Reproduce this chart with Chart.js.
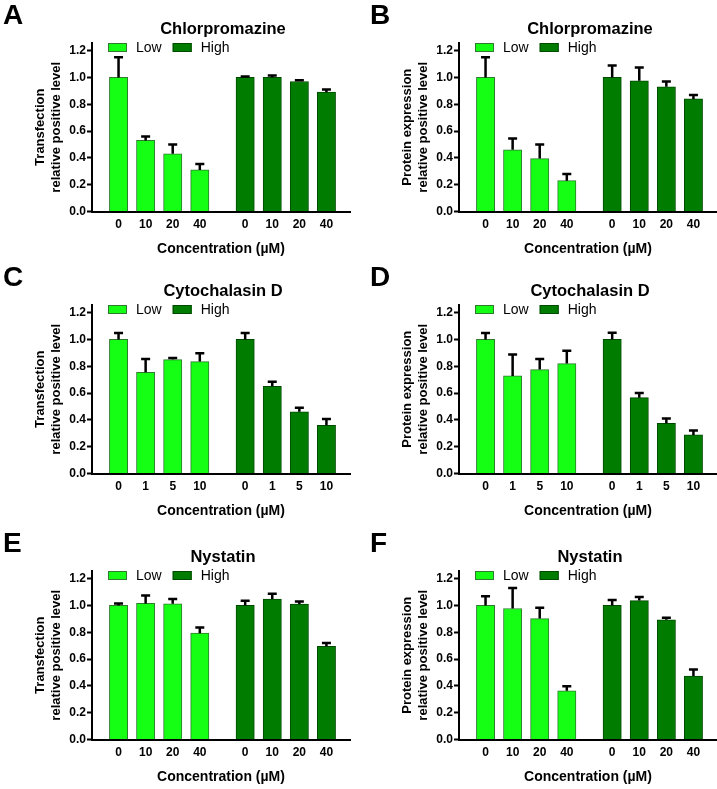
<!DOCTYPE html>
<html>
<head>
<meta charset="utf-8">
<script src="https://cdn.jsdelivr.net/npm/chart.js@4.4.1/dist/chart.umd.min.js"></script>
<style>
body { margin: 0; width: 717px; height: 789px; overflow: hidden; background: #fff; position: relative;
       font-family: "Liberation Sans", Arial, sans-serif; color: #000; }
.panel { position: absolute; width: 360px; height: 262px; }
.panel canvas { position: absolute; left: 0; top: 0; }
.letter { position: absolute; left: 3px; top: 1px; font-size: 28px; font-weight: bold; line-height: 28px; }
.title { position: absolute; left: 123px; width: 200px; top: 18px; text-align: center;
         font-size: 16.5px; font-weight: bold; line-height: 20px; }
</style>
</head>
<body>
<script>
/* Dose labels */
const chlorDoses = ['0', '10', '20', '40'];
const cytoDoses = ['0', '1', '5', '10'];
const nysDoses = ['0', '10', '20', '40'];

/* A - Chlorpromazine, transfection */
const aLow = [1.0, 0.53, 0.43, 0.31];
const aLowErr = [0.15, 0.03, 0.07, 0.045];
const aHigh = [1.0, 1.0, 0.97, 0.89];
const aHighErr = [0.008, 0.015, 0.01, 0.02];

/* B - Chlorpromazine, protein expression */
const bLow = [1.0, 0.46, 0.395, 0.23];
const bLowErr = [0.15, 0.085, 0.105, 0.05];
const bHigh = [1.0, 0.975, 0.93, 0.84];
const bHighErr = [0.09, 0.1, 0.04, 0.03];

/* C - Cytochalasin D, transfection */
const cLow = [1.0, 0.755, 0.85, 0.835];
const cLowErr = [0.048, 0.1, 0.012, 0.062];
const cHigh = [1.0, 0.65, 0.46, 0.36];
const cHighErr = [0.048, 0.035, 0.03, 0.047];

/* D - Cytochalasin D, protein expression */
const dLow = [1.0, 0.728, 0.775, 0.82];
const dLowErr = [0.048, 0.16, 0.08, 0.095];
const dHigh = [1.0, 0.566, 0.375, 0.288];
const dHighErr = [0.05, 0.035, 0.035, 0.032];

/* E - Nystatin, transfection */
const eLow = [1.0, 1.015, 1.012, 0.793];
const eLowErr = [0.015, 0.06, 0.037, 0.042];
const eHigh = [1.0, 1.048, 1.01, 0.695];
const eHighErr = [0.035, 0.04, 0.02, 0.025];

/* F - Nystatin, protein expression */
const fLow = [1.0, 0.977, 0.902, 0.363];
const fLowErr = [0.068, 0.153, 0.08, 0.035];
const fHigh = [1.0, 1.036, 0.893, 0.473];
const fHighErr = [0.04, 0.027, 0.015, 0.05];

const yTicks = [0, 0.2, 0.4, 0.6, 0.8, 1.0, 1.2];

const FONT = '"Liberation Sans", Arial, sans-serif';
const LOW_COLOR = '#14ff14', LOW_BORDER = '#2f7a2f';
const HIGH_COLOR = '#007d00', HIGH_BORDER = '#004a00';
const GROUP_GAP = 4.675; // second group starts here on the x scale

const transTitle = ['Transfection', 'relative positive level'];
const protTitle = ['Protein expression', 'relative positive level'];

const panels = [
    {letter: 'A', left: 0,   top: 0,     title: 'Chlorpromazine', yTitle: transTitle, doses: chlorDoses, low: aLow, lowErr: aLowErr, high: aHigh, highErr: aHighErr},
    {letter: 'B', left: 367, top: 0,     title: 'Chlorpromazine', yTitle: protTitle,  doses: chlorDoses, low: bLow, lowErr: bLowErr, high: bHigh, highErr: bHighErr},
    {letter: 'C', left: 0,   top: 261.5, title: 'Cytochalasin D', yTitle: transTitle, doses: cytoDoses,  low: cLow, lowErr: cLowErr, high: cHigh, highErr: cHighErr},
    {letter: 'D', left: 367, top: 261.5, title: 'Cytochalasin D', yTitle: protTitle,  doses: cytoDoses,  low: dLow, lowErr: dLowErr, high: dHigh, highErr: dHighErr},
    {letter: 'E', left: 0,   top: 527.5, title: 'Nystatin',       yTitle: transTitle, doses: nysDoses,   low: eLow, lowErr: eLowErr, high: eHigh, highErr: eHighErr},
    {letter: 'F', left: 367, top: 527.5, title: 'Nystatin',       yTitle: protTitle,  doses: nysDoses,   low: fLow, lowErr: fLowErr, high: fHigh, highErr: fHighErr}
];

/* upward-only error bars with a cap */
const errorBars = {
    id: 'errorBars',
    afterDatasetsDraw(chart) {
        const ctx = chart.ctx;
        const yScale = chart.scales.y;
        ctx.save();
        ctx.strokeStyle = '#000';
        ctx.lineWidth = 2.5;
        chart.data.datasets.forEach((ds, i) => {
            chart.getDatasetMeta(i).data.forEach((bar, j) => {
                const top = yScale.getPixelForValue(ds.data[j].y + ds.errors[j]);
                ctx.beginPath();
                ctx.moveTo(bar.x, bar.y);
                ctx.lineTo(bar.x, top);
                ctx.moveTo(bar.x - 4.5, top);
                ctx.lineTo(bar.x + 4.5, top);
                ctx.stroke();
            });
        });
        ctx.restore();
    }
};

/* legend sitting inside the plot, next to the 1.2 tick */
const innerLegend = {
    id: 'innerLegend',
    afterDraw(chart) {
        const {ctx, chartArea} = chart;
        let x = chartArea.left + 16;
        const y = chartArea.top;
        ctx.save();
        ctx.font = '14px ' + FONT;
        ctx.textBaseline = 'middle';
        ctx.textAlign = 'left';
        chart.data.datasets.forEach(ds => {
            ctx.fillStyle = ds.backgroundColor;
            ctx.fillRect(x, y, 19, 9);
            ctx.strokeStyle = ds.borderColor;
            ctx.lineWidth = 1;
            ctx.strokeRect(x + 0.5, y + 0.5, 18, 8);
            ctx.fillStyle = '#000';
            ctx.fillText(ds.label, x + 28, y + 5);
            x += 28 + ctx.measureText(ds.label).width + 11;
        });
        ctx.restore();
    }
};

const makePoints = function(values, offset) {
    return values.map((v, i) => ({x: offset + i, y: v}));
}

panels.forEach(p => {
    const box = document.createElement('div');
    box.className = 'panel';
    box.style.left = p.left + 'px';
    box.style.top = p.top + 'px';
    box.innerHTML = '<canvas width="360" height="262"></canvas><div class="letter"></div><div class="title"></div>';
    box.querySelector('.letter').textContent = p.letter;
    box.querySelector('.title').textContent = p.title;
    document.body.appendChild(box);

    const tickPos = p.doses.map((_, i) => i).concat(p.doses.map((_, i) => GROUP_GAP + i));
    const tickLabels = p.doses.concat(p.doses);

    new Chart(box.querySelector('canvas'), {
        type: 'bar',
        data: {
            datasets: [{
                label: 'Low',
                data: makePoints(p.low, 0),
                errors: p.lowErr,
                backgroundColor: LOW_COLOR,
                borderColor: LOW_BORDER,
                borderWidth: 1,
                grouped: false,
                barThickness: 18.3
            }, {
                label: 'High',
                data: makePoints(p.high, GROUP_GAP),
                errors: p.highErr,
                backgroundColor: HIGH_COLOR,
                borderColor: HIGH_BORDER,
                borderWidth: 1,
                grouped: false,
                barThickness: 18.3
            }]
        },
        options: {
            responsive: false,
            animation: false,
            layout: {padding: {left: 0, top: 43, right: 10, bottom: 4.5}},
            plugins: {legend: {display: false}, tooltip: {enabled: false}},
            scales: {
                x: {
                    type: 'linear',
                    offset: false,
                    min: -0.98,
                    max: 8.545,
                    afterBuildTicks: s => { s.ticks = tickPos.map(v => ({value: v})); },
                    afterFit: s => { s.height = 46; },
                    grid: {display: false, drawTicks: false},
                    border: {display: true, color: '#000', width: 2},
                    ticks: {
                        autoSkip: false,
                        maxRotation: 0,
                        padding: 6,
                        color: '#000',
                        font: {family: FONT, size: 12, weight: 'bold'},
                        callback: (v, i) => tickLabels[i]
                    },
                    title: {
                        display: true,
                        text: 'Concentration (µM)',
                        color: '#000',
                        padding: {top: 0, bottom: 0},
                        font: {family: FONT, size: 14, weight: 'bold'}
                    }
                },
                y: {
                    min: 0,
                    max: 1.257,
                    afterFit: s => { s.width = 92; },
                    afterBuildTicks: s => { s.ticks = yTicks.map(v => ({value: v})); },
                    grid: {drawOnChartArea: false, drawTicks: true, tickLength: 5, tickWidth: 2, color: '#000', tickColor: '#000'},
                    border: {display: true, color: '#000', width: 2},
                    ticks: {
                        padding: 1,
                        color: '#000',
                        font: {family: FONT, size: 12, weight: 'bold'},
                        callback: v => v.toFixed(1)
                    },
                    title: {
                        display: true,
                        text: p.yTitle,
                        color: '#000',
                        padding: {top: 32, bottom: 0},
                        font: {family: FONT, size: 13, weight: 'bold', lineHeight: 1.25}
                    }
                }
            }
        },
        plugins: [errorBars, innerLegend]
    });
});
</script>
</body>
</html>
